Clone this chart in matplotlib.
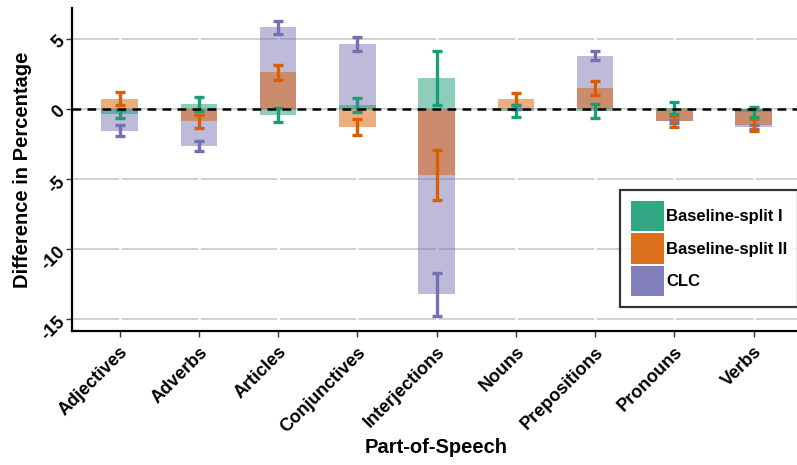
import matplotlib
matplotlib.use("Agg")
import matplotlib.pyplot as plt
import numpy as np
from matplotlib.patches import Patch

categories = ["Adjectives", "Adverbs", "Articles", "Conjunctives", "Interjections",
              "Nouns", "Prepositions", "Pronouns", "Verbs"]
series_names = ["Baseline-split I", "Baseline-split II", "CLC"]
split1_vals = [-0.35, 0.36, -0.45, 0.24, 2.2, -0.15, -0.15, 0.05, -0.2]
split1_err = [0.3, 0.5, 0.5, 0.5, 1.9, 0.4, 0.5, 0.45, 0.35]
split2_vals = [0.72, -0.9, 2.6, -1.3, -4.72, 0.72, 1.48, -0.9, -1.15]
split2_err = [0.45, 0.47, 0.53, 0.55, 1.8, 0.42, 0.5, 0.42, 0.4]
clc_vals = [-1.55, -2.65, 5.82, 4.65, -13.24, 0.0, 3.8, -0.9, -1.3]
clc_err = [0.4, 0.36, 0.45, 0.5, 1.55, 0.0, 0.35, 0.1, 0.15]
yticks = [5, 0, -5, -10, -15]

colors = ["#1b9e77", "#d95f02", "#7570b3"]
alphas = [0.5, 0.5, 0.48]

plt.rcParams['font.family'] = ['Liberation Sans', 'DejaVu Sans']
fig = plt.figure(figsize=(7.97, 4.65), dpi=100)
ax = fig.add_axes([0.0903, 0.288, 0.915, 0.695])

x = np.arange(1, len(categories) + 1)
width = 0.46
vals = [split1_vals, split2_vals, clc_vals]
errs = [split1_err, split2_err, clc_err]

for yv in yticks:
    ax.axhline(yv, color="#c8c8c8", lw=1.2, zorder=0)
for xv in x:
    ax.axvline(xv, color="white", lw=1.8, zorder=0.5)

# draw CLC first, then split II, then split I on top
for i in [2, 1, 0]:
    ax.bar(x, vals[i], width=width, color=colors[i], alpha=alphas[i], zorder=1 + (2 - i) * 0.1,
           linewidth=0)
for i in [2, 1, 0]:
    ax.errorbar(x, vals[i], yerr=errs[i], fmt="none", ecolor=colors[i], elinewidth=2.4,
                capsize=3.5, capthick=2.4, zorder=3)

ax.axhline(0, color="black", lw=1.8, ls=(0, (3.5, 2.5)), zorder=4)

ax.set_xlim(0.4, 9.6)
ax.set_ylim(-15.85, 7.2)
ax.set_yticks(yticks)
ax.set_yticklabels([str(t) for t in yticks], rotation=45, fontsize=13, fontweight="bold",
                   va="center", ha="right", rotation_mode="anchor")
ax.set_xticks(x)
ax.set_xticklabels(categories, rotation=45, ha="right", rotation_mode="anchor",
                   fontsize=13, fontweight="bold")
ax.tick_params(axis="both", length=4, width=1, color="#333333")
ax.tick_params(axis="x", pad=5)
ax.tick_params(axis="y", pad=3)
for s in ["top", "right"]:
    ax.spines[s].set_visible(False)
for s in ["left", "bottom"]:
    ax.spines[s].set_linewidth(1.6)
ax.set_ylabel("Difference in Percentage", fontsize=14.5, fontweight="bold", labelpad=4)
ax.set_xlabel("Part-of-Speech", fontsize=14.5, fontweight="bold", labelpad=2)

handles = [Patch(facecolor=c, alpha=0.9, edgecolor="none") for c in colors]
leg = fig.legend(handles, series_names, loc="upper left",
                 bbox_to_anchor=(620 / 797, 1 - 190 / 465), borderaxespad=0,
                 frameon=True, fancybox=False,
                 prop={"weight": "bold", "size": 12}, handlelength=2.0, handleheight=2.4,
                 handletextpad=0.12, labelspacing=0.15, borderpad=0.65)
leg.get_frame().set_edgecolor("black")
leg.get_frame().set_linewidth(1.6)

fig.savefig("out.png", dpi=100)
